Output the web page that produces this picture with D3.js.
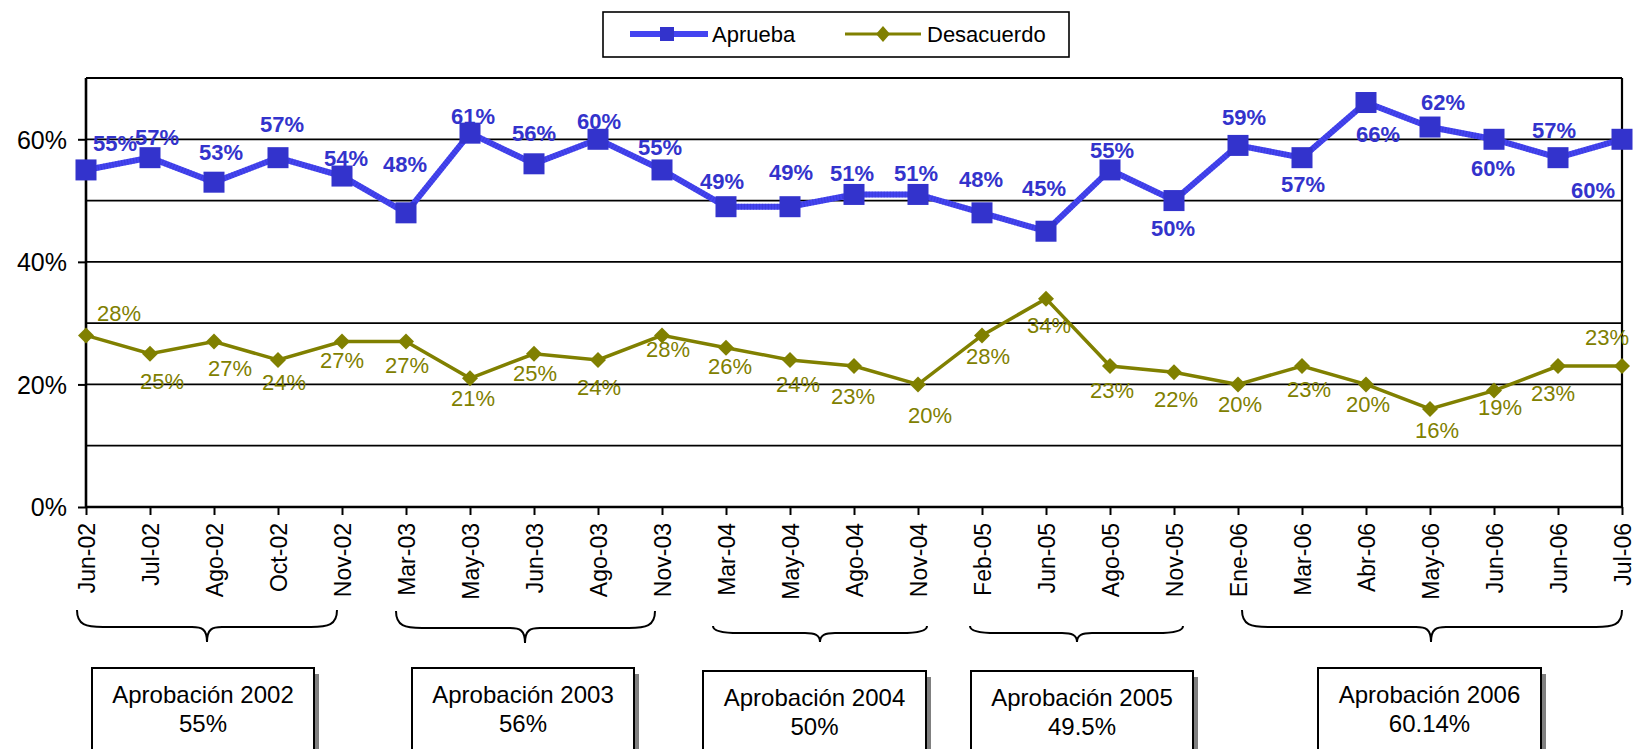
<!DOCTYPE html>
<html>
<head>
<meta charset="utf-8">
<script src="https://cdn.jsdelivr.net/npm/d3@7"></script>
<style>
  html, body { margin: 0; padding: 0; background: #fff; }
  svg { display: block; font-family: "Liberation Sans", Arial, sans-serif; }
</style>
</head>
<body>
<svg id="chart" width="1635" height="749"></svg>
<script>
// ---------- DATA ----------
const categories = ["Jun-02","Jul-02","Ago-02","Oct-02","Nov-02","Mar-03","May-03","Jun-03","Ago-03","Nov-03",
  "Mar-04","May-04","Ago-04","Nov-04","Feb-05","Jun-05","Ago-05","Nov-05","Ene-06","Mar-06","Abr-06","May-06",
  "Jun-06","Jun-06","Jul-06"];
const aprueba = [55,57,53,57,54,48,61,56,60,55,49,49,51,51,48,45,55,50,59,57,66,62,60,57,60];
const desacuerdo = [28,25,27,24,27,27,21,25,24,28,26,24,23,20,28,34,23,22,20,23,20,16,19,23,23];
const seriesNames = ["Aprueba","Desacuerdo"];
const yTickValues = [0,20,40,60];
const yGridValues = [10,20,30,40,50,60,70];
// yearly groups: first and last category index, summary text
const groupStart = [0,5,10,14,18];
const groupEnd = [4,9,13,17,24];
const groupTitle = ["Aprobación 2002","Aprobación 2003","Aprobación 2004","Aprobación 2005","Aprobación 2006"];
const groupValue = ["55%","56%","50%","49.5%","60.14%"];

// ---------- LAYOUT (label nudges, px) ----------
const aprLabelOffset = [[29,-27],[7,-20],[7,-30],[4,-33],[4,-18],[-1,-49],[3,-17],[0,-31],[1,-18],[-2,-23],
  [-4,-25],[1,-34],[-2,-21],[-2,-21],[-1,-34],[-2,-43],[2,-20],[-1,28],[6,-28],[1,27],[12,32],[13,-25],
  [-1,29],[-4,-27],[-29,51]];
const desLabelOffset = [[33,-22],[12,28],[16,27],[6,22],[0,19],[1,24],[3,20],[1,20],[1,27],[6,14],
  [4,19],[8,24],[-1,30],[12,31],[6,21],[3,27],[2,24],[2,27],[2,20],[7,23],[2,20],[7,21],
  [6,17],[-5,27],[-15,-29]];
// brace geometry per group: [top, horizontal, tip, tipX]
const braceShape = [[610,627,642,207],[611,628,643,525],[626,633,642,820],[626,633,642,1077],[610,627,642,1431]];
const braceEnds = [[77,337],[396,655],[713,927],[970,1183],[1242,1622]];
const boxRect = [[92,668,222,82],[412,668,222,82],[703,671,223,84],[971,671,222,84],[1318,668,223,82]];

const BLUE = "#3333CC", BLUE_LINE = "#4444F0", OLIVE = "#808000";

const svg = d3.select("#chart");
const x = d3.scalePoint().domain(d3.range(categories.length)).range([86, 1622]);
const y = d3.scaleLinear().domain([0, 70]).range([507, 78]);

// gridlines
svg.append("g").selectAll("line").data(yGridValues).join("line")
  .attr("x1", x.range()[0]).attr("x2", x.range()[1])
  .attr("y1", d => y(d)).attr("y2", d => y(d))
  .attr("stroke", "#000").attr("stroke-width", d => d === 70 ? 2.2 : 1.8);
// right border
svg.append("line").attr("x1", 1622).attr("x2", 1622).attr("y1", y(70)).attr("y2", y(0))
  .attr("stroke", "#000").attr("stroke-width", 2.2);

// y axis
const yAxis = svg.append("g").attr("transform", "translate(86,0)")
  .call(d3.axisLeft(y).tickValues(yTickValues).tickSize(8).tickPadding(10).tickFormat(d => d + "%"));
yAxis.select(".domain").attr("stroke", "#000").attr("stroke-width", 2.6).attr("d", `M0,${y(70)}V${y(0)}`);
yAxis.selectAll(".tick line").attr("stroke", "#000").attr("stroke-width", 2);
yAxis.selectAll("text").attr("font-size", 25).attr("fill", "#000")
  .attr("font-family", "Liberation Sans, Arial, sans-serif").attr("dy", "0.35em").attr("x", -19);

// x axis
const xAxis = svg.append("g").attr("transform", `translate(0,${y(0)})`)
  .call(d3.axisBottom(x).tickSize(8).tickFormat(i => categories[i]));
xAxis.select(".domain").attr("stroke", "#000").attr("stroke-width", 2.6).attr("d", `M86,0H1622`);
xAxis.selectAll(".tick line").attr("stroke", "#000").attr("stroke-width", 2);
xAxis.selectAll("text")
  .attr("font-size", 23).attr("fill", "#000").attr("font-family", "Liberation Sans, Arial, sans-serif")
  .attr("text-anchor", "end").attr("transform", "rotate(-90)")
  .attr("x", -16).attr("y", 0).attr("dy", "0.36em");

// lines
const line = d3.line().x((d, i) => x(i)).y(d => y(d));
svg.append("path").datum(desacuerdo).attr("d", line)
  .attr("fill", "none").attr("stroke", OLIVE).attr("stroke-width", 3.5).attr("stroke-linejoin", "miter");
svg.append("path").datum(aprueba).attr("d", line)
  .attr("fill", "none").attr("stroke", BLUE_LINE).attr("stroke-width", 6);
svg.append("path").datum(aprueba).attr("d", line)
  .attr("fill", "none").attr("stroke", BLUE).attr("stroke-width", 6).attr("stroke-dasharray", "1,2").attr("opacity", 0.5);

// markers
const diamond = (cx, cy, w, h) => `M${cx},${cy - h / 2}L${cx + w / 2},${cy}L${cx},${cy + h / 2}L${cx - w / 2},${cy}Z`;
svg.append("g").selectAll("path").data(desacuerdo).join("path")
  .attr("d", (d, i) => diamond(x(i), y(d), 16, 16)).attr("fill", OLIVE);
svg.append("g").selectAll("rect").data(aprueba).join("rect")
  .attr("x", (d, i) => x(i) - 10.5).attr("y", d => y(d) - 10.5)
  .attr("width", 21).attr("height", 21).attr("fill", BLUE);

// data labels
svg.append("g").selectAll("text").data(desacuerdo).join("text")
  .attr("x", (d, i) => x(i) + desLabelOffset[i][0]).attr("y", (d, i) => y(d) + desLabelOffset[i][1])
  .attr("dy", "0.35em").attr("text-anchor", "middle").attr("font-size", 22).attr("fill", OLIVE)
  .text(d => d + "%");
svg.append("g").selectAll("text").data(aprueba).join("text")
  .attr("x", (d, i) => x(i) + aprLabelOffset[i][0]).attr("y", (d, i) => y(d) + aprLabelOffset[i][1])
  .attr("dy", "0.35em").attr("text-anchor", "middle").attr("font-size", 22).attr("font-weight", "bold")
  .attr("fill", BLUE).text(d => d + "%");

// legend
const lg = svg.append("g");
lg.append("rect").attr("x", 603).attr("y", 12).attr("width", 466).attr("height", 45)
  .attr("fill", "#fff").attr("stroke", "#000").attr("stroke-width", 1.6);
lg.append("line").attr("x1", 630).attr("x2", 708).attr("y1", 34).attr("y2", 34)
  .attr("stroke", BLUE_LINE).attr("stroke-width", 6);
lg.append("rect").attr("x", 660).attr("y", 27).attr("width", 14).attr("height", 14).attr("fill", BLUE);
lg.append("text").attr("x", 712).attr("y", 34).attr("dy", "0.35em").attr("font-size", 22).text(seriesNames[0]);
lg.append("line").attr("x1", 845).attr("x2", 921).attr("y1", 34).attr("y2", 34)
  .attr("stroke", OLIVE).attr("stroke-width", 3);
lg.append("path").attr("d", diamond(883, 34, 14, 16)).attr("fill", OLIVE);
lg.append("text").attr("x", 927).attr("y", 34).attr("dy", "0.35em").attr("font-size", 22).text(seriesNames[1]);

// braces
function bracePath(x0, x1, yTop, yH, yTip, xc) {
  const r = Math.min(26, (x1 - x0) / 8), r2 = 15;
  return `M${x0},${yTop}` +
    `C${x0},${yH - 2} ${x0 + r * 0.35},${yH} ${x0 + r},${yH}` +
    `L${xc - r2},${yH}` +
    `C${xc - r2 * 0.35},${yH} ${xc},${yH + 2} ${xc},${yTip}` +
    `C${xc},${yH + 2} ${xc + r2 * 0.35},${yH} ${xc + r2},${yH}` +
    `L${x1 - r},${yH}` +
    `C${x1 - r * 0.35},${yH} ${x1},${yH - 2} ${x1},${yTop}`;
}
svg.append("g").selectAll("path").data(groupStart).join("path")
  .attr("d", (d, k) => bracePath(braceEnds[k][0], braceEnds[k][1], braceShape[k][0], braceShape[k][1], braceShape[k][2], braceShape[k][3]))
  .attr("fill", "none").attr("stroke", "#000").attr("stroke-width", 2);

// summary boxes
const bx = svg.append("g").selectAll("g").data(groupTitle).join("g");
bx.append("rect").attr("x", (d, k) => boxRect[k][0] + 5).attr("y", (d, k) => boxRect[k][1] + 6)
  .attr("width", (d, k) => boxRect[k][2]).attr("height", (d, k) => boxRect[k][3]).attr("fill", "#808080");
bx.append("rect").attr("x", (d, k) => boxRect[k][0]).attr("y", (d, k) => boxRect[k][1])
  .attr("width", (d, k) => boxRect[k][2]).attr("height", (d, k) => boxRect[k][3])
  .attr("fill", "#fff").attr("stroke", "#000").attr("stroke-width", 2);
bx.append("text").attr("x", (d, k) => boxRect[k][0] + boxRect[k][2] / 2).attr("y", (d, k) => boxRect[k][1] + 35)
  .attr("text-anchor", "middle").attr("font-size", 24).text(d => d);
bx.append("text").attr("x", (d, k) => boxRect[k][0] + boxRect[k][2] / 2).attr("y", (d, k) => boxRect[k][1] + 64)
  .attr("text-anchor", "middle").attr("font-size", 24).text((d, k) => groupValue[k]);
</script>
</body>
</html>
